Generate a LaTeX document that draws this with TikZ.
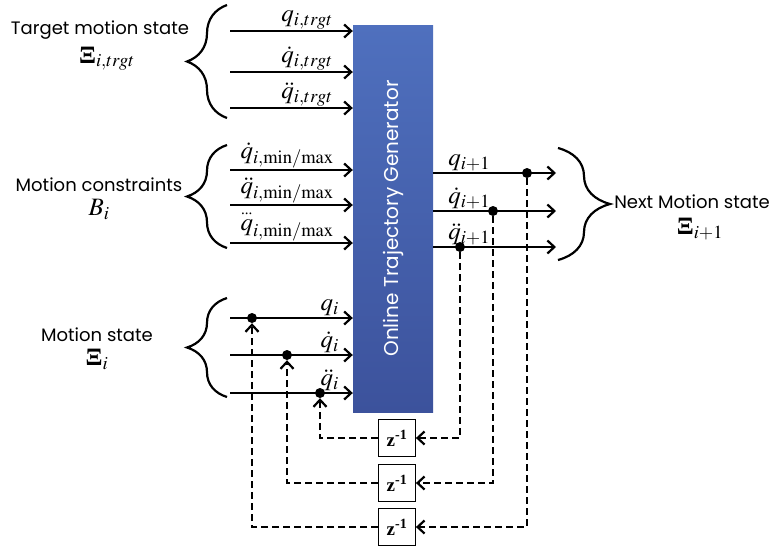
\documentclass[tikz,border=0pt]{standalone}
\usepackage{amsmath}
\usepackage{mathptmx}
\usepackage{fontspec}
\setmainfont{Liberation Serif}
\newfontfamily\gothic{Poppins}
\usetikzlibrary{arrows.meta,
                decorations.pathreplacing,
                positioning}
\definecolor{otgtop}{HTML}{4F70BE}
\definecolor{otgbot}{HTML}{3C529C}
% three dots over a symbol, without widening it
\newcommand{\jerk}[1]{{\overset{\makebox[0pt]{\fontsize{15}{15}\selectfont...}}{#1}}}

\begin{document}
\begin{tikzpicture}[
x=1pt, y=-1pt,
every node/.style = {inner sep=0pt},
    arrow/.style = {-{Straight Barb[length=7pt,width=13pt]}, line width=2.2pt},
     feed/.style = {arrow, dash pattern=on 7pt off 4pt},
      gen/.style = {top color=otgtop, bottom color=otgbot,
                    minimum width=80, minimum height=387, text=white,
                    font=\gothic\fontsize{20}{24}\selectfont},
    delay/.style = {draw, line width=0.8pt, fill=white, minimum size=37,
                    font=\bfseries\fontsize{19}{20}\selectfont},
    brace/.style = {decorate, decoration={brace, amplitude=#1}, line width=2.2pt},
     info/.style = {font=\gothic\fontsize{18}{22}\selectfont, align=center},
      sig/.style = {font=\fontsize{25}{27}\selectfont},
      dot/.style = {circle, fill, minimum size=10}
                    ]
\useasboundingbox (0,0) rectangle (773,550);
 % main
\node (otg) [gen] at (393,218.5) {\rotatebox{90}{Online Trajectory Generator}};
% inputs
\foreach \y/\gap/\lbl [count=\k] in {31/19/{q_{i,trgt}}, 72/19/{\dot{q}_{i,trgt}},
        108/19/{\ddot{q}_{i,trgt}},
        170/18/{\dot{q}_{i,\mathrm{min/max}}}, 205/18/{\ddot{q}_{i,\mathrm{min/max}}},
        243/18/{\jerk{q}_{i,\mathrm{min/max}}},
        318/13/{q_i}, 355/13/{\dot{q}_i}, 393/13/{\ddot{q}_i}}
 {
  \coordinate (in\k) at (230,\y);
  \draw[arrow] (in\k) -- (in\k -| otg.west) node[sig, above left=1pt and \gap pt] {$\lbl$};
 }
% outputs
\foreach \y/\x/\lbl [count=\k] in {173/527/{q_{i+1}}, 211/493/{\dot{q}_{i+1}}, 247/460/{\ddot{q}_{i+1}}}
 {
  \coordinate (out\k) at (556,\y);
  \draw[arrow] (otg.east |- out\k) node[sig, above right=1pt and 14pt] {$\lbl$} -- (out\k);
  \node (tap\k) [dot] at (\x,\y) {};
 }
% state taps
\node (st1) [dot] at (252,318) {};
\node (st2) [dot] at (287,355) {};
\node (st3) [dot] at (320,393) {};
% delays
\node (z1) [delay] at (397,438) {z\textsuperscript{-1}};
\node (z2) [delay] at (397,483) {z\textsuperscript{-1}};
\node (z3) [delay] at (397,527) {z\textsuperscript{-1}};

\draw[feed] (tap3) |- (z1);
\draw[feed] (tap2) |- (z2);
\draw[feed] (tap1) |- (z3);
\draw[feed] (z1) -| (st3);
\draw[feed] (z2) -| (st2);
\draw[feed] (z3) -| (st1);
% braces and labels
\draw[brace=40] (227,118) -- (227,5);
\draw[brace=40] (227,248) -- (227,145);
\draw[brace=40] (227,397) -- (227,298);
\draw[brace=52] (558,148) -- (558,260);

\node (tgt)  [info] at (100,30) {Target motion state};
\node (tgtx) [sig, below=7pt of tgt, xshift=7pt] {{\bfseries Ξ}$_{i,trgt}$};
\node (lim)  [info] at (99,185) {Motion constraints};
\node (limx) [sig, below=7pt of lim] {$B_i$};
\node (cur)  [info] at (97,335) {Motion state};
\node (curx) [sig, below=7pt of cur] {{\bfseries Ξ}$_i$};
\node (nxt)  [info] at (692,202) {Next Motion state};
\node (nxtx) [sig, below=9pt of nxt, xshift=8pt] {{\bfseries Ξ}$_{i+1}$};
\end{tikzpicture}
\end{document}
